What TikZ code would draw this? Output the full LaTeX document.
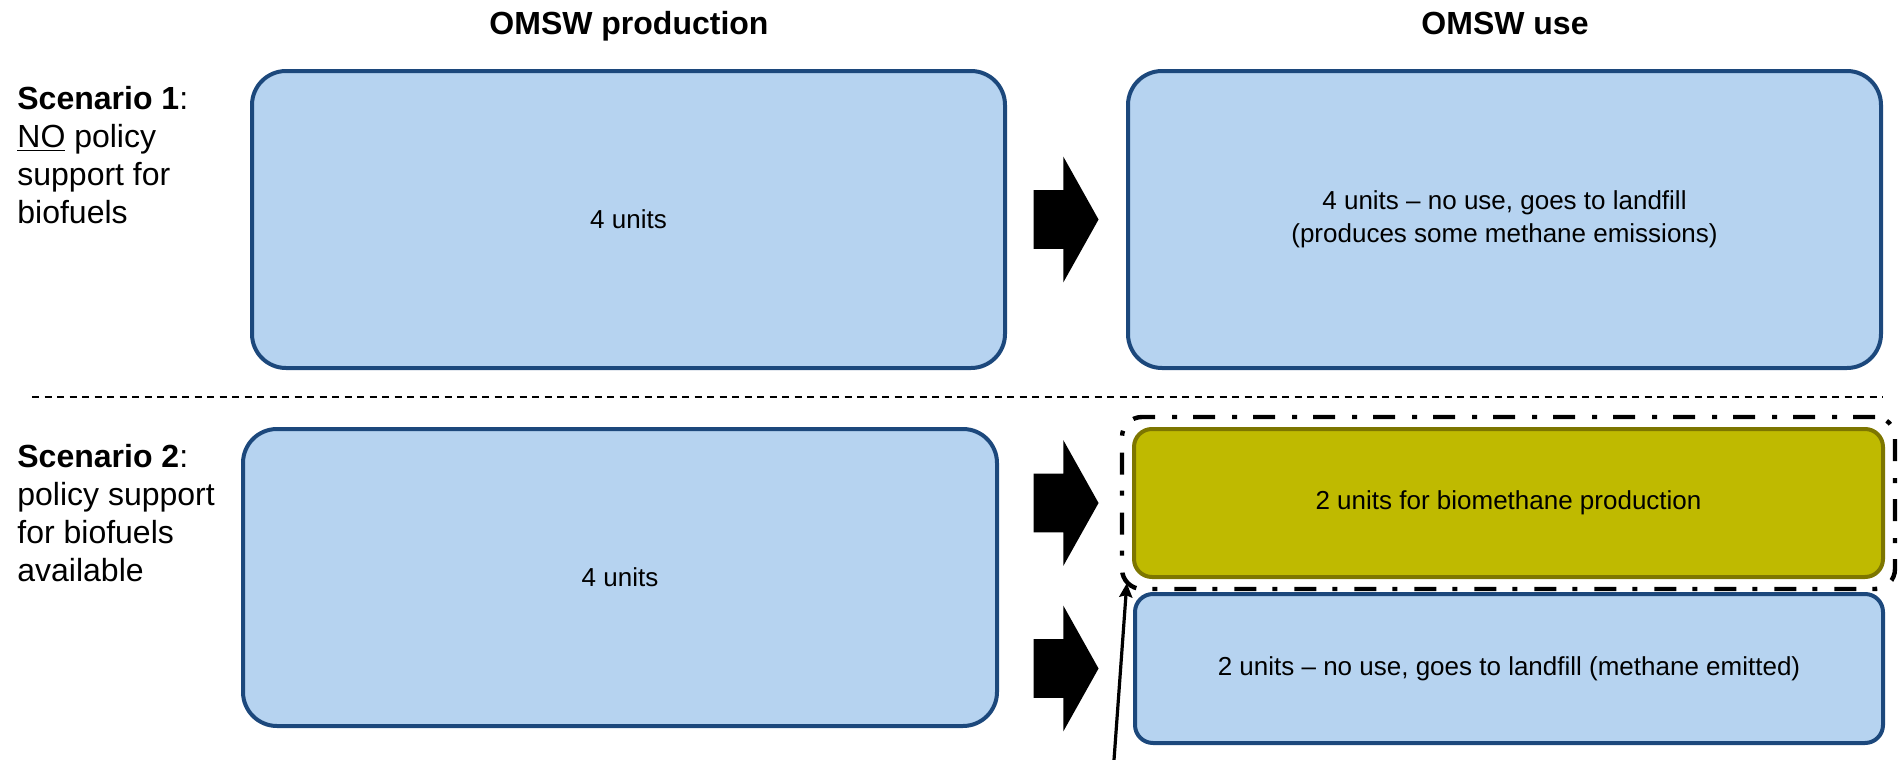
\documentclass[tikz,border=0pt]{standalone}
\usepackage{fontspec}
\setmainfont{Liberation Sans}
\usepackage{tikz}
\usetikzlibrary{positioning,calc,fit,shapes.arrows,arrows.meta}
\definecolor{boxblue}{RGB}{182,211,240}
\definecolor{lineblue}{RGB}{28,72,124}
\definecolor{biofill}{RGB}{191,186,0}
\definecolor{bioline}{RGB}{125,118,0}
\tikzset{
	bigbox/.style={draw=lineblue, fill=boxblue, line width=2pt, rounded corners=17pt,
		minimum width=376.5pt, minimum height=148.5pt, align=center,
		font=\fontsize{13}{16.5}\selectfont},
	smallbox/.style={bigbox, rounded corners=9pt, minimum width=374.5pt, minimum height=74pt},
	fatarrow/.style={single arrow, fill=black, inner sep=0pt, text height=14.5pt, text depth=14.5pt,
		minimum height=32.5pt, single arrow head extend=16.75pt, single arrow tip angle=121.5,
		anchor=tip},
	heading/.style={anchor=base, font=\fontsize{16}{19}\selectfont\bfseries},
	scenario/.style={anchor=north west, inner sep=0pt, align=left,
		font=\fontsize{16}{19}\selectfont},
	dashdot/.style={line width=2.2pt, dash pattern=on 11pt off 8pt on 2.5pt off 8.5pt}
}

\begin{document}
\begin{tikzpicture}[x=0.5pt,y=-0.5pt]
	\useasboundingbox (0,0) rectangle (1903,760);
	\node[heading] (hprod) at (629,34) {OMSW production};
	\node[heading] (huse) at (1505,34) {OMSW use};

	% scenario 1
	\node[scenario] (sc1) at (17,86) {\textbf{Scenario 1}:\\\underline{NO} policy\\support for\\biofuels};
	\node[bigbox] (prod1) at (628.5,219.5) {4 units};
	\node[bigbox] (use1) at (1504.5,219.5) {4 units -- no use, goes to landfill\\(produces some methane emissions)};
	\node[fatarrow] (arr1) at ([xshift=-13.5pt]use1.west) {};

	\coordinate (sepL) at (32,397);
	\coordinate (sepR) at (1883,397);
	\draw[line width=.75pt, dash pattern=on 3.5pt off 2.75pt] (sepL) -- (sepR);

	% scenario 2
	\node[scenario] (sc2) at (17,444) {\textbf{Scenario 2}:\\policy support\\for biofuels\\available};
	\node[bigbox, minimum width=377pt] (prod2) at (620,577.5) {4 units};
	\node[smallbox, fill=biofill, draw=bioline] (bio) at (1508.5,503) {2 units for biomethane production};
	\node[smallbox, minimum width=374pt, minimum height=74.5pt] (land) at (1509,668.5) {2 units -- no use, goes to landfill (methane emitted)};
	\node[draw, dashdot, rounded corners=10pt, inner sep=5pt, fit=(bio)] (grp) {};
	\node[fatarrow] (arr2) at (arr1.tip |- bio) {};
	\node[fatarrow] (arr3) at (arr1.tip |- land) {};

	\coordinate (foot) at (1114,760);
	\draw[line width=1.6pt, -{Stealth[length=7pt,width=6.5pt,inset=1pt]}] (foot) -- ([shift={(7,-8)}]grp.south west);
\end{tikzpicture}
\end{document}
